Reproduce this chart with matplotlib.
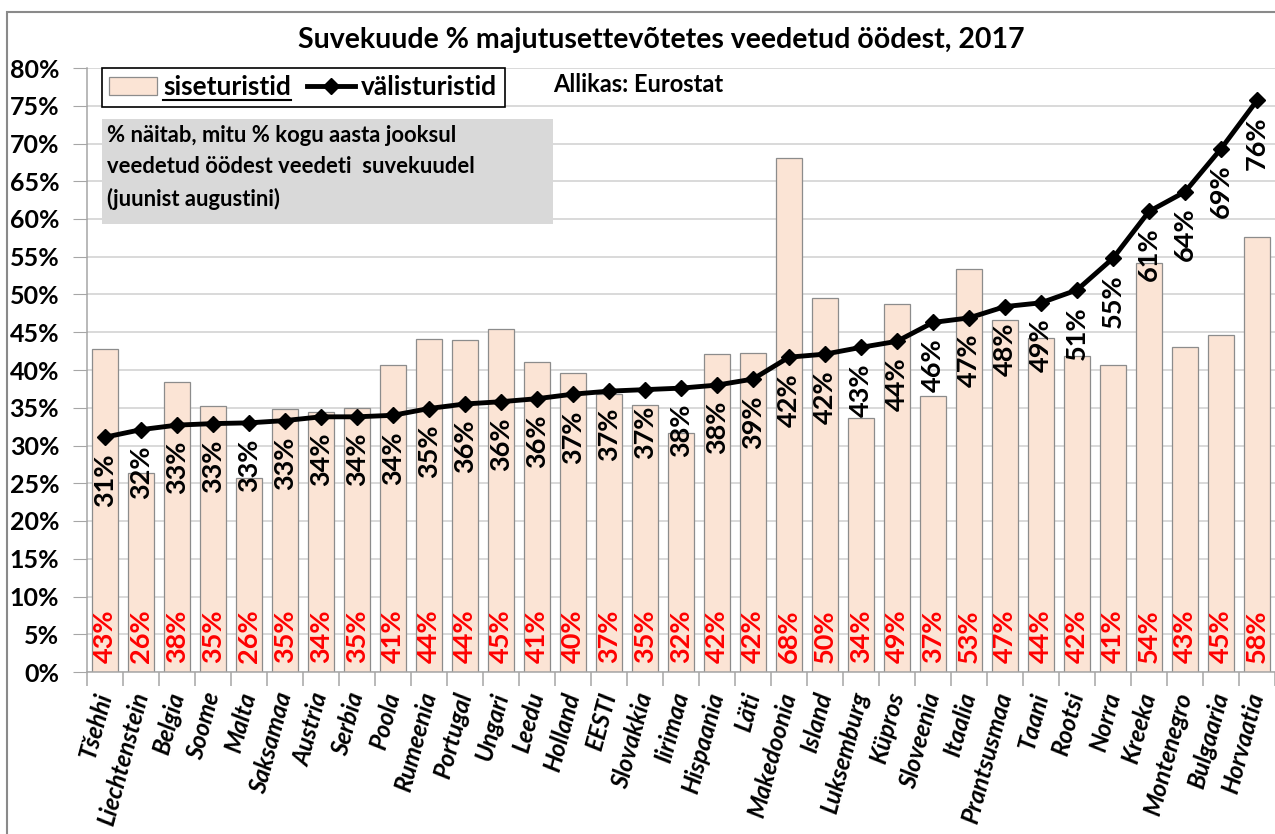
import matplotlib
matplotlib.use("Agg")
import matplotlib.pyplot as plt
from matplotlib.ticker import FuncFormatter, FixedLocator, NullFormatter
from matplotlib.patches import Rectangle
from matplotlib.lines import Line2D

plt.rcParams['font.family'] = ['Lato', 'DejaVu Sans']

title = "Suvekuude % majutusettevõtetes veedetud öödest, 2017"
countries = ["Tšehhi", "Liechtenstein", "Belgia", "Soome", "Malta", "Saksamaa", "Austria",
             "Serbia", "Poola", "Rumeenia", "Portugal", "Ungari", "Leedu", "Holland", "EESTI",
             "Slovakkia", "Iirimaa", "Hispaania", "Läti", "Makedoonia", "Island", "Luksemburg",
             "Küpros", "Sloveenia", "Itaalia", "Prantsusmaa", "Taani", "Rootsi", "Norra",
             "Kreeka", "Montenegro", "Bulgaaria", "Horvaatia"]
# domestic tourists (bars), percent
siseturistid = [42.8, 26.3, 38.4, 35.2, 25.7, 34.8, 34.4, 35.0, 40.7, 44.1, 44.0, 45.4, 41.0,
                39.6, 36.8, 35.4, 31.6, 42.1, 42.2, 68.1, 49.6, 33.6, 48.7, 36.6, 53.4, 46.6,
                44.2, 41.8, 40.6, 54.2, 43.0, 44.6, 57.6]
# foreign tourists (line), percent
valisturistid = [31.1, 32.1, 32.7, 32.9, 33.0, 33.3, 33.8, 33.8, 34.0, 34.9, 35.5, 35.8, 36.2,
                 36.8, 37.2, 37.4, 37.6, 38.0, 38.8, 41.7, 42.1, 43.0, 43.8, 46.3, 46.9, 48.4,
                 48.9, 50.6, 54.8, 61.0, 63.6, 69.3, 75.7]
yticks = list(range(0, 81, 5))
legend_labels = ["siseturistid", "välisturistid"]
source_text = "Allikas: Eurostat"
note_text = "% näitab, mitu % kogu aasta jooksul\nveedetud öödest veedeti  suvekuudel\n(juunist augustini)"

W, H = 1275, 834
fig = plt.figure(figsize=(W / 100, H / 100), dpi=100)
ax = fig.add_axes([87 / W, 1 - 672 / H, (1275 - 87) / W, (672 - 68) / H])

x = list(range(len(countries)))
bar_color = "#FBE4D5"
bars = ax.bar(x, siseturistid, width=0.73, color=bar_color, edgecolor="#8C8C8C",
              linewidth=0.9, zorder=2, label=legend_labels[0])
line, = ax.plot(x, valisturistid, color="black", lw=3.5, marker="D", markersize=8,
                zorder=4, label=legend_labels[1])

ax.set_xlim(-0.5, len(countries) - 0.5)
ax.set_ylim(0, 80)
ax.set_yticks(yticks)
ax.yaxis.set_major_formatter(FuncFormatter(lambda v, p: f"{int(v)}%"))
ax.grid(axis="y", color="#D0D0D0", lw=1.1, zorder=0)
ax.set_axisbelow(True)
for s in ["top", "right"]:
    ax.spines[s].set_visible(False)
for s in ["left", "bottom"]:
    ax.spines[s].set_color("#A6A6A6")
    ax.spines[s].set_linewidth(1.1)
ax.tick_params(axis="y", length=10, color="#A6A6A6", labelsize=18, pad=10)
for t in ax.get_yticklabels():
    t.set_fontweight("bold")

ax.set_xticks(x)
ax.set_xticklabels(countries, rotation=75, ha="right", va="center", rotation_mode="anchor",
                   fontsize=17.5, fontweight="bold", fontstyle="italic")
ax.tick_params(axis="x", which="major", length=0, pad=15)
ax.xaxis.set_minor_locator(FixedLocator([i - 0.5 for i in range(len(countries) + 1)]))
ax.xaxis.set_minor_formatter(NullFormatter())
ax.tick_params(axis="x", which="minor", length=10, color="#A6A6A6", width=1.1)

for i, v in enumerate(valisturistid):
    ax.annotate(f"{round(v)}%", (i, v), xytext=(0, -16), textcoords="offset pixels",
                rotation=90, ha="center", va="top", fontsize=19.5, fontweight="bold",
                color="black", zorder=5)
for i, v in enumerate(siseturistid):
    ax.annotate(f"{round(v)}%", (i, 0), xytext=(0, 9), textcoords="offset pixels",
                rotation=90, ha="center", va="bottom", fontsize=19.5, fontweight="bold",
                color="#FF0000", zorder=5)

fig.text(661 / W, 1 - 40 / H, title, ha="center", va="center", fontsize=20.5, fontweight="bold")

leg = ax.legend(handles=[bars, line], labels=legend_labels, loc="upper left",
                bbox_to_anchor=(102 / W, 1 - 68 / H), bbox_transform=fig.transFigure,
                ncol=2, frameon=True, fancybox=False, edgecolor="black", framealpha=1,
                borderaxespad=0, handlelength=1.8, handletextpad=0.25, columnspacing=0.6,
                borderpad=0.28, prop={"size": 19, "weight": "bold"})
leg.get_frame().set_linewidth(1.2)
leg.set_zorder(10)

fig.text(553 / W, 1 - 85 / H, source_text, ha="left", va="center", fontsize=17, fontweight="bold")

fig.patches.append(Rectangle((102 / W, 1 - 224 / H), (553 - 102) / W, (224 - 119) / H,
                             transform=fig.transFigure, facecolor="#D9D9D9", edgecolor="none",
                             zorder=8))
fig.text(107 / W, 1 - 125 / H, note_text, ha="left", va="top", fontsize=15.8,
         fontweight="bold", linespacing=1.6, zorder=9)

# outer chart border
fig.patches.append(Rectangle((7 / W, -0.01), 1.0, 1 - 12 / H + 0.01, transform=fig.transFigure,
                             facecolor="none", edgecolor="#8A8A8A", lw=1.5, zorder=0))

# underline first legend label
fig.canvas.draw()
bb = leg.get_texts()[0].get_window_extent()
fig.add_artist(Line2D([bb.x0 / W, bb.x1 / W], [(bb.y0 - 1) / H, (bb.y0 - 1) / H],
                      transform=fig.transFigure, color="black", lw=1.5, zorder=11))

fig.savefig("out.png", dpi=100)
